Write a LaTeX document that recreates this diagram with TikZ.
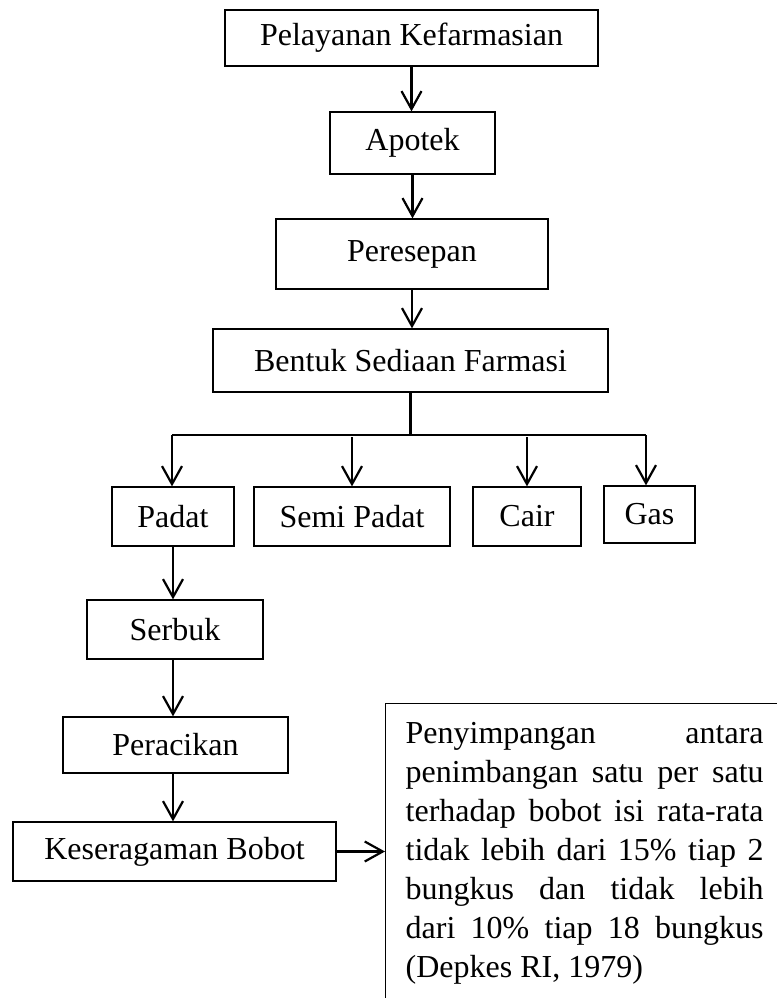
\documentclass[tikz,border=0pt]{standalone}
\usepackage{fontspec}
\setmainfont{Liberation Serif}
\usetikzlibrary{arrows.meta}
\begin{document}
\begin{tikzpicture}[x=0.5pt,y=-0.5pt,
  box/.style={draw,line width=0.65pt,inner sep=0pt,font=\fontsize{16}{19.5}\selectfont},
  arr/.style={line width=1.1pt,-{Straight Barb[length=9pt,width=10pt]}},
  ln/.style={line width=1.1pt}]
\clip (0,0) rectangle (777,998);
% main column
\node[box,minimum width=186.5pt,minimum height=28pt] (pel) at (411.5,38) {Pelayanan Kefarmasian};
\node[box,minimum width=82.5pt,minimum height=31pt] (apo) at (412.5,143) {Apotek};
\node[box,minimum width=136pt,minimum height=35pt] (per) at (412,254) {Peresepan};
\node[box,minimum width=197.5pt,minimum height=31.5pt] (ben) at (410.5,360.5) {Bentuk Sediaan Farmasi};
% second row
\node[box,minimum width=61pt,minimum height=29.5pt] (pad) at (173,516.5) {Padat};
\node[box,minimum width=98pt,minimum height=29.5pt] (sem) at (352,516.5) {Semi Padat};
\node[box,minimum width=54pt,minimum height=29.5pt] (cai) at (527,516.5) {Cair};
\node[box,minimum width=45.5pt,minimum height=28.5pt] (gas) at (649.5,514.5) {Gas};
% left column
\node[box,minimum width=88pt,minimum height=29.5pt] (ser) at (175,629.5) {Serbuk};
\node[box,minimum width=112.5pt,minimum height=28pt] (pera) at (175.5,745) {Peracikan};
\node[box,minimum width=161.5pt,minimum height=29.5pt] (kes) at (174.5,851.5) {Keseragaman Bobot};
% description box
\node[box,anchor=north west,text width=179pt,align=justify,inner xsep=10pt,inner ysep=0pt] (big) at (385,703)
  {\noindent\hyphenpenalty=10000\rule{0pt}{20pt}Penyimpangan antara\linebreak
   penimbangan satu per satu\linebreak
   terhadap bobot isi rata-rata\linebreak
   tidak lebih dari 15\% tiap 2\linebreak
   bungkus dan tidak lebih\linebreak
   dari 10\% tiap 18 bungkus\linebreak
   (Depkes RI, 1979)\rule[-40pt]{0pt}{1pt}};
% connectors
\draw[arr] (pel.south) -- (pel.south |- apo.north);
\draw[arr] (apo.south) -- (apo.south |- per.north);
\draw[arr] (per.south) -- (per.south |- ben.north);
\coordinate (jm) at (410.5,435);
\coordinate (jl) at (172,435);
\coordinate (jr) at (646,435);
\coordinate (js) at (352,437);
\coordinate (jc) at (527,437);
\draw[ln] (ben.south) -- (jm);
\draw[ln] (jl) -- (jr);
\draw[arr] (jl) -- (jl |- pad.north);
\draw[arr] (js) -- (js |- sem.north);
\draw[arr] (jc) -- (jc |- cai.north);
\draw[arr] (jr) -- (jr |- gas.north);
\coordinate (col) at (173,0);
\draw[arr] (pad.south -| col) -- (ser.north -| col);
\draw[arr] (ser.south -| col) -- (pera.north -| col);
\draw[arr] (pera.south -| col) -- (kes.north -| col);
\draw[arr] (kes.east) -- (kes.east -| big.west);
\end{tikzpicture}
\end{document}
